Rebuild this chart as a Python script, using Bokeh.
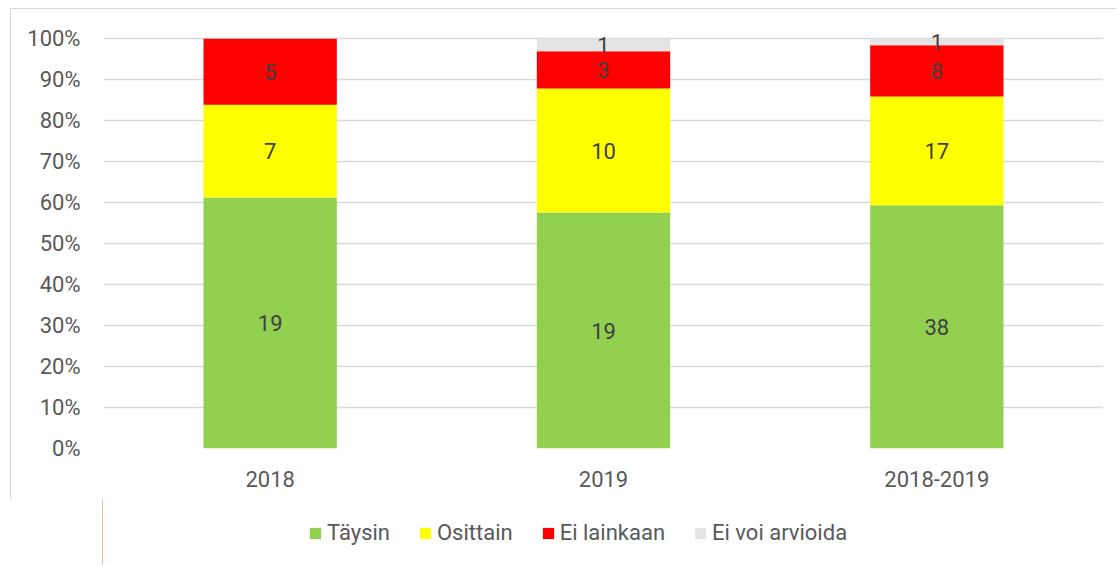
from bokeh.plotting import figure
from bokeh.layouts import column
from bokeh.models import ColumnDataSource, Legend, LegendItem, FixedTicker, Range1d, LabelSet, InlineStyleSheet, CustomJSTickFormatter
from bokeh.core.properties import value
from bokeh.embed import file_html
from bokeh.resources import INLINE

categories = ["2018", "2019", "2018-2019"]
taysin = [19, 19, 38]
osittain = [7, 10, 17]
ei_lainkaan = [5, 3, 8]
ei_voi = [0, 1, 1]
series_names = ["Täysin", "Osittain", "Ei lainkaan", "Ei voi arvioida"]
series_vals = [taysin, osittain, ei_lainkaan, ei_voi]
colors = ["#92D050", "#FFFF00", "#FF0000", "#E4E4E4"]
y_ticks = [0, 10, 20, 30, 40, 50, 60, 70, 80, 90, 100]

FONT = "Roboto"
TXT = "#595959"

totals = [sum(s[i] for s in series_vals) for i in range(len(categories))]

css_top = InlineStyleSheet(css=":host { border-left: 1px solid #d9d9d9; border-top: 1px solid #d9d9d9; }")

p = figure(x_range=categories, y_range=Range1d(0, 103), width=1106, height=491,
           output_backend="svg", toolbar_location=None,
           min_border_left=92, min_border_right=14, min_border_top=17, min_border_bottom=52,
           stylesheets=[css_top])
p.outline_line_color = None
p.background_fill_color = "white"
p.border_fill_color = "white"

bottoms = [0.0] * len(categories)
for name, vals, col in zip(series_names, series_vals, colors):
    pct = [v / t * 100 for v, t in zip(vals, totals)]
    tops = [b + q for b, q in zip(bottoms, pct)]
    mids = [(b + t) / 2 for b, t in zip(bottoms, tops)]
    labels = [str(v) if v > 0 else "" for v in vals]
    src = ColumnDataSource(dict(x=categories, bottom=bottoms, top=tops, mid=mids, lab=labels))
    p.vbar(x="x", bottom="bottom", top="top", width=0.4, source=src,
           fill_color=col, line_color=None)
    p.add_layout(LabelSet(x="x", y="mid", text="lab", source=src, text_align="center",
                          text_baseline="middle", text_font=value(FONT),
                          text_font_size="22px", text_color="#404040"))
    bottoms = tops

p.yaxis.ticker = FixedTicker(ticks=y_ticks)
p.yaxis.formatter = CustomJSTickFormatter(code="return tick + '%';")
for ax in [p.xaxis[0], p.yaxis[0]]:
    ax.axis_line_color = None
    ax.major_tick_line_color = None
    ax.minor_tick_line_color = None
    ax.major_tick_out = 0
    ax.major_tick_in = 0
    ax.major_label_text_font = FONT
    ax.major_label_text_font_size = "22px"
    ax.major_label_text_color = TXT
p.yaxis.major_label_standoff = 23
p.xaxis.major_label_standoff = 22
p.xgrid.grid_line_color = None
p.ygrid.ticker = FixedTicker(ticks=y_ticks)
p.ygrid.grid_line_color = "#D9D9D9"
p.ygrid.grid_line_width = 1.5

# legend strip below the chart
lf = figure(width=1106, height=66, x_range=Range1d(0, 1), y_range=Range1d(0, 1),
            output_backend="svg", toolbar_location=None,
            x_axis_location=None, y_axis_location=None,
            min_border_left=92, min_border_right=14, min_border_top=0, min_border_bottom=0)
lf.outline_line_color = None
lf.xgrid.visible = False
lf.ygrid.visible = False
lf.background_fill_color = "white"
lf.border_fill_color = "white"
items = []
for name, col in zip(series_names, colors):
    r = lf.vbar(x=[-10], top=[1], width=0.1, fill_color=col, line_color=None)
    items.append(LegendItem(label=name, renderers=[r]))
legend = Legend(items=items, orientation="horizontal", location=(206, 20),
                glyph_width=14, glyph_height=14, label_standoff=5, spacing=28,
                padding=0, margin=0, border_line_color=None, background_fill_alpha=0,
                label_text_font=FONT, label_text_font_size="22px", label_text_color=TXT)
lf.add_layout(legend, "center")

layout = column(p, lf, spacing=0, margin=(8, 0, 0, 10))

open("out.html", "w").write(file_html(layout, INLINE))
